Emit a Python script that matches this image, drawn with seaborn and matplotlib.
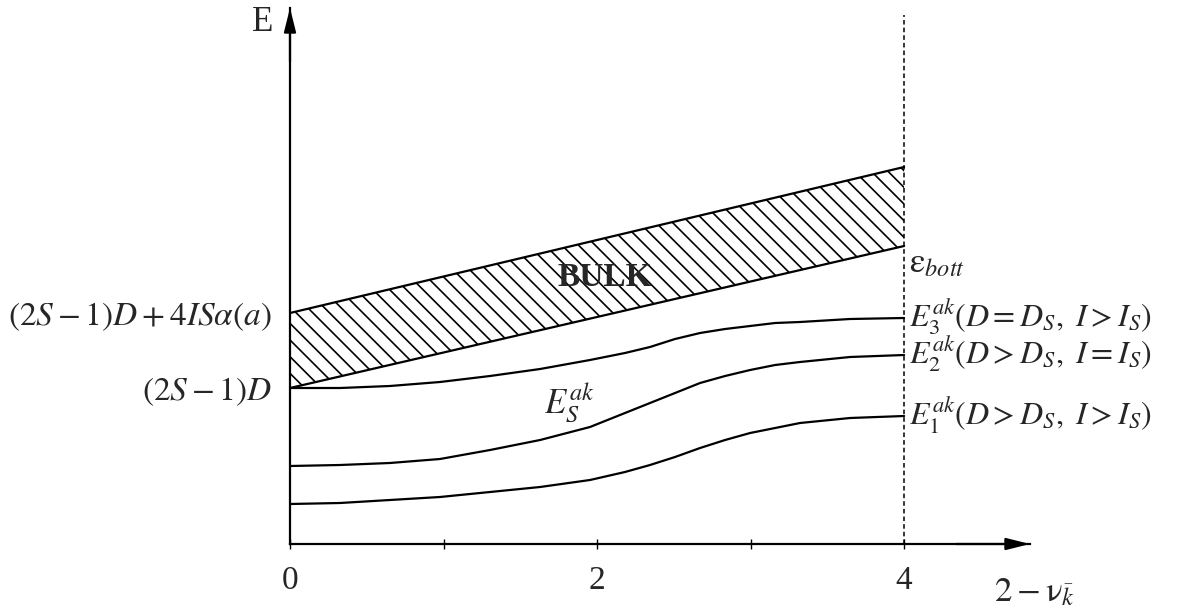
import numpy as np
import pandas as pd
import matplotlib
matplotlib.use("Agg")
import matplotlib.pyplot as plt
import seaborn as sns

# ---- data ----
band_x = [0.0, 4.0]
band_top = [2.31, 3.77]
band_bottom = [1.56, 2.98]

curve_x = [0.0, 0.326, 0.651, 0.977, 1.303, 1.629, 1.954, 2.182, 2.345, 2.508,
           2.671, 2.834, 2.997, 3.160, 3.322, 3.648, 4.0]
e3_y = [1.56, 1.56, 1.58, 1.62, 1.68, 1.75, 1.84, 1.91, 1.97, 2.05,
        2.11, 2.15, 2.18, 2.21, 2.22, 2.25, 2.26]
e2_y = [0.78, 0.79, 0.81, 0.85, 0.94, 1.04, 1.17, 1.31, 1.41, 1.51,
        1.61, 1.68, 1.74, 1.79, 1.82, 1.87, 1.89]
e1_y = [0.40, 0.41, 0.44, 0.47, 0.52, 0.57, 0.64, 0.72, 0.79, 0.87,
        0.96, 1.04, 1.11, 1.16, 1.21, 1.26, 1.28]

x_major_ticks = [0, 2, 4]
x_minor_ticks = [1, 3]
y_tick_values = [2.31, 1.56]
y_tick_labels = [r"$\left(2S-1\right)D+4IS\alpha\left(a\right)$",
                 r"$\left(2S-1\right)D$"]
curve_labels = [r"$E_3^{ak}\left(D=D_S,\ I>I_S\right)$",
                r"$E_2^{ak}\left(D>D_S,\ I=I_S\right)$",
                r"$E_1^{ak}\left(D>D_S,\ I>I_S\right)$"]

sns.set_theme(style="white")
plt.rcParams["font.family"] = ["Liberation Serif", "DejaVu Serif"]
plt.rcParams["mathtext.fontset"] = "stix"
plt.rcParams["hatch.linewidth"] = 1.2

fig = plt.figure(figsize=(11.88, 6.10), dpi=100)
ax = fig.add_axes([290 / 1188, (610 - 544) / 610, (1030 - 290) / 1188, (544 - 8) / 610])
ax.set_xlim(0, 4.82)
ax.set_ylim(0, 5.36)

# hatched bulk band
ax.fill_between(band_x, band_bottom, band_top, facecolor="none", edgecolor="black",
                hatch="\\\\", linewidth=0)

lines = pd.concat([
    pd.DataFrame({"x": band_x, "E": band_top, "curve": "top"}),
    pd.DataFrame({"x": band_x, "E": band_bottom, "curve": "bottom"}),
    pd.DataFrame({"x": curve_x, "E": e3_y, "curve": "E3"}),
    pd.DataFrame({"x": curve_x, "E": e2_y, "curve": "E2"}),
    pd.DataFrame({"x": curve_x, "E": e1_y, "curve": "E1"}),
])
sns.lineplot(data=lines, x="x", y="E", units="curve", estimator=None, sort=False,
             color="black", linewidth=1.6, ax=ax, legend=False)

# dashed vertical line at x=4
ax.plot([4, 4], [0, 5.29], color="black", linestyle=(0, (3, 2)), linewidth=1.1)

# spines / axes
for s in ["top", "right"]:
    ax.spines[s].set_visible(False)
for s in ["left", "bottom"]:
    ax.spines[s].set_color("black")
    ax.spines[s].set_linewidth(1.6)

ax.set_xticks(x_major_ticks)
ax.set_xticklabels([str(t) for t in x_major_ticks], fontsize=24)
ax.set_xticks(x_minor_ticks, minor=True)
ax.tick_params(axis="x", which="both", direction="inout", length=7, width=1.0,
               color="black", pad=12, bottom=True)
ax.set_yticks(y_tick_values)
ax.set_yticklabels(y_tick_labels, fontsize=24)
ax.tick_params(axis="y", length=0, pad=13, left=True)
ax.set_xlabel("")
ax.set_ylabel("")

# arrows at axis ends
arrow = dict(arrowstyle="-|>,head_length=1.2,head_width=0.3", color="black",
             lw=1.6, shrinkA=0, shrinkB=0)
ax.annotate("", xy=(1.0, 0), xytext=(0.9, 0), xycoords="axes fraction",
            arrowprops=arrow, annotation_clip=False)
ax.annotate("", xy=(0, 1.0), xytext=(0, 0.9), xycoords="axes fraction",
            arrowprops=arrow, annotation_clip=False)

# labels
ax.text(-0.18, 5.22, "E", fontsize=25, ha="center", va="center")
ax.text(4.85, -0.49, r"$2-\mathrm{\nu}_{\bar{k}}$", fontsize=25, ha="center", va="center",
        clip_on=False)
ax.text(2.05, 2.67, "BULK", fontsize=24, fontweight="bold", ha="center", va="center")
ax.text(1.82, 1.42, r"$E_S^{ak}$", fontsize=25, ha="center", va="center")
ax.text(4.03, 2.80, r"$\mathrm{\varepsilon}_{bott}$", fontsize=25, ha="left", va="center",
        clip_on=False)
for yv, lab in zip([e3_y[-1], e2_y[-1], e1_y[-1]], curve_labels):
    ax.text(4.03, yv, lab, fontsize=23, ha="left", va="center", clip_on=False)

fig.savefig("out.png", dpi=100, facecolor="white")
